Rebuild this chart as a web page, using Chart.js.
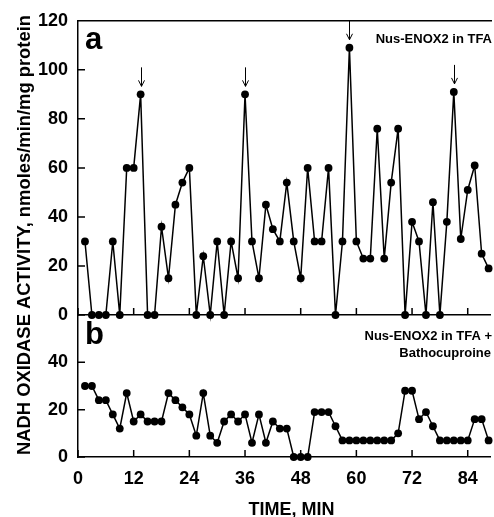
<!DOCTYPE html>
<html>
<head>
<meta charset="utf-8">
<script src="https://cdn.jsdelivr.net/npm/chart.js@4"></script>
<style>
  html, body { margin: 0; padding: 0; background: #fff; }
  #wrap { position: relative; width: 494px; height: 517px; overflow: hidden; background: #fff; }
  canvas { position: absolute; left: 0; top: 0; }
</style>
</head>
<body>
<div id="wrap">
  <canvas id="cTop" width="494" height="517"></canvas>
  <canvas id="cBot" width="494" height="517"></canvas>
</div>
<script>
// ---- data ----
const timeMin = [1.5,3,4.5,6,7.5,9,10.5,12,13.5,15,16.5,18,19.5,21,22.5,24,25.5,27,28.5,30,
  31.5,33,34.5,36,37.5,39,40.5,42,43.5,45,46.5,48,49.5,51,52.5,54,55.5,57,58.5,60,
  61.5,63,64.5,66,67.5,69,70.5,72,73.5,75,76.5,78,79.5,81,82.5,84,85.5,87,88.5];
const activityTFA = [30,0,0,0,30,0,60,60,90,0, 0,36,15,45,54,60,0,24,0,30,
  0,30,15,90,30,15,45,35,30,54, 30,15,60,30,30,60,0,30,109,30,
  23,23,76,23,54,76,0,38,30,0, 46,0,38,91,31,51,61,25,19];
const activityBatho = [30,30,24,24,18,12,27,15,18,15, 15,15,27,24,21,18,9,27,9,6,
  15,18,15,18,6,18,6,15,12,12, 0,0,0,19,19,19,13,7,7,7,
  7,7,7,7,7,10,28,28,16,19, 13,7,7,7,7,7,16,16,7];
const arrowIdx = [8, 23, 38, 53];
const xTicks = [0,12,24,36,48,60,72,84];
const yTicksTop = [0,20,40,60,80,100,120];
const yTicksBot = [0,20,40];
const labelTop = 'Nus-ENOX2 in TFA';
const labelBot = ['Nus-ENOX2 in TFA +', 'Bathocuproine'];
const yTitle = 'NADH OXIDASE ACTIVITY, nmoles/min/mg protein';
const xTitle = 'TIME, MIN';

const FONT = '"Liberation Sans", Arial, Helvetica, sans-serif';
Chart.defaults.font.family = FONT;
Chart.defaults.color = '#000';

function pts(vals) { return timeMin.map((t, i) => ({ x: t, y: vals[i] })); }

const innerTicks = {
  id: 'innerTicks',
  afterDraw(chart, args, opts) {
    const ctx = chart.ctx, a = chart.chartArea;
    const xs = chart.scales.x, ys = chart.scales.y;
    ctx.save();
    ctx.strokeStyle = '#000';
    ctx.lineWidth = 1.5;
    ctx.beginPath();
    opts.yt.forEach(v => { const p = ys.getPixelForValue(v); ctx.moveTo(a.left, p); ctx.lineTo(a.left + 7, p); });
    xTicks.forEach(v => { const p = xs.getPixelForValue(v); ctx.moveTo(p, a.bottom); ctx.lineTo(p, a.bottom - 7); });
    if (opts.topBorder) { ctx.moveTo(a.left, a.top); ctx.lineTo(a.right + 2, a.top); }
    ctx.stroke();
    ctx.restore();
  }
};

const decoTop = {
  id: 'decoTop',
  afterDraw(chart) {
    const ctx = chart.ctx;
    const meta = chart.getDatasetMeta(0);
    ctx.save();
    ctx.strokeStyle = '#000';
    ctx.lineWidth = 1;
    arrowIdx.forEach(i => {
      const el = meta.data[i];
      const x = Math.round(el.x) + 0.5, y0 = el.y - 27, y1 = el.y - 8;
      ctx.beginPath();
      ctx.moveTo(x, y0); ctx.lineTo(x, y1);
      ctx.moveTo(x - 3, y1 - 6); ctx.lineTo(x, y1); ctx.lineTo(x + 3, y1 - 6);
      ctx.stroke();
    });
    ctx.fillStyle = '#000';
    ctx.font = 'bold 31px ' + FONT;
    ctx.textAlign = 'left'; ctx.textBaseline = 'alphabetic';
    ctx.fillText('a', 85, 49);
    ctx.font = 'bold 13px ' + FONT;
    ctx.textAlign = 'right';
    ctx.fillText(labelTop, 492, 43);
    ctx.restore();
  }
};

const decoBot = {
  id: 'decoBot',
  afterDraw(chart) {
    const ctx = chart.ctx;
    ctx.save();
    ctx.fillStyle = '#000';
    ctx.font = 'bold 31px ' + FONT;
    ctx.textAlign = 'left'; ctx.textBaseline = 'alphabetic';
    ctx.fillText('b', 85, 344);
    ctx.font = 'bold 13px ' + FONT;
    ctx.textAlign = 'right';
    ctx.fillText(labelBot[0], 492, 339.5);
    ctx.fillText(labelBot[1], 491, 356.5);
    // x title
    ctx.font = 'bold 18px ' + FONT;
    ctx.textAlign = 'center';
    ctx.fillText(xTitle, 291.5, 514.5);
    // y title spanning both panels
    ctx.translate(29.5, 235);
    ctx.rotate(-Math.PI / 2);
    const w = ctx.measureText(yTitle).width;
    ctx.scale(440 / w, 1);
    ctx.fillText(yTitle, 0, 0);
    ctx.restore();
  }
};

function makeChart(id, vals, yMax, yt, showX, padding, extraPlugins, topBorder) {
  return new Chart(document.getElementById(id), {
    type: 'line',
    data: {
      datasets: [{
        data: pts(vals),
        borderColor: '#000',
        borderWidth: 1.5,
        backgroundColor: '#000',
        pointBackgroundColor: '#000',
        pointBorderColor: '#000',
        pointBorderWidth: 0,
        pointRadius: 3.9,
        tension: 0,
        clip: false
      }]
    },
    options: {
      responsive: false,
      animation: false,
      devicePixelRatio: 1,
      layout: { padding: padding },
      plugins: { legend: { display: false }, tooltip: { enabled: false }, title: { display: false },
        innerTicks: { yt: yt, topBorder: topBorder } },
      scales: {
        x: {
          type: 'linear', min: 0, max: 88.8,
          grid: { display: false, drawTicks: false },
          border: { display: true, color: '#000', width: 1.5 },
          ticks: { display: showX, includeBounds: false, padding: 11,
            font: { size: 18, weight: 'bold', lineHeight: 1.2 }, color: '#000', maxRotation: 0, autoSkip: false },
          afterBuildTicks: s => { s.ticks = xTicks.map(v => ({ value: v })); },
          afterFit: s => { s.height = showX ? 60 : 0; }
        },
        y: {
          type: 'linear', min: 0, max: yMax,
          grid: { display: false, drawTicks: false },
          border: { display: true, color: '#000', width: 1.5 },
          ticks: { padding: 10, font: { size: 18, weight: 'bold' }, color: '#000', autoSkip: false },
          afterBuildTicks: s => { s.ticks = yt.map(v => ({ value: v })); },
          afterFit: s => { s.width = 78; }
        }
      }
    },
    plugins: [innerTicks].concat(extraPlugins)
  });
}

makeChart('cTop', activityTFA, 120, yTicksTop, false, { top: 17, left: 0, right: 0, bottom: 202 }, [decoTop], true);
makeChart('cBot', activityBatho, 60, yTicksBot, true, { top: 315, left: 0, right: 0, bottom: 0 }, [decoBot], false);
</script>
</body>
</html>
